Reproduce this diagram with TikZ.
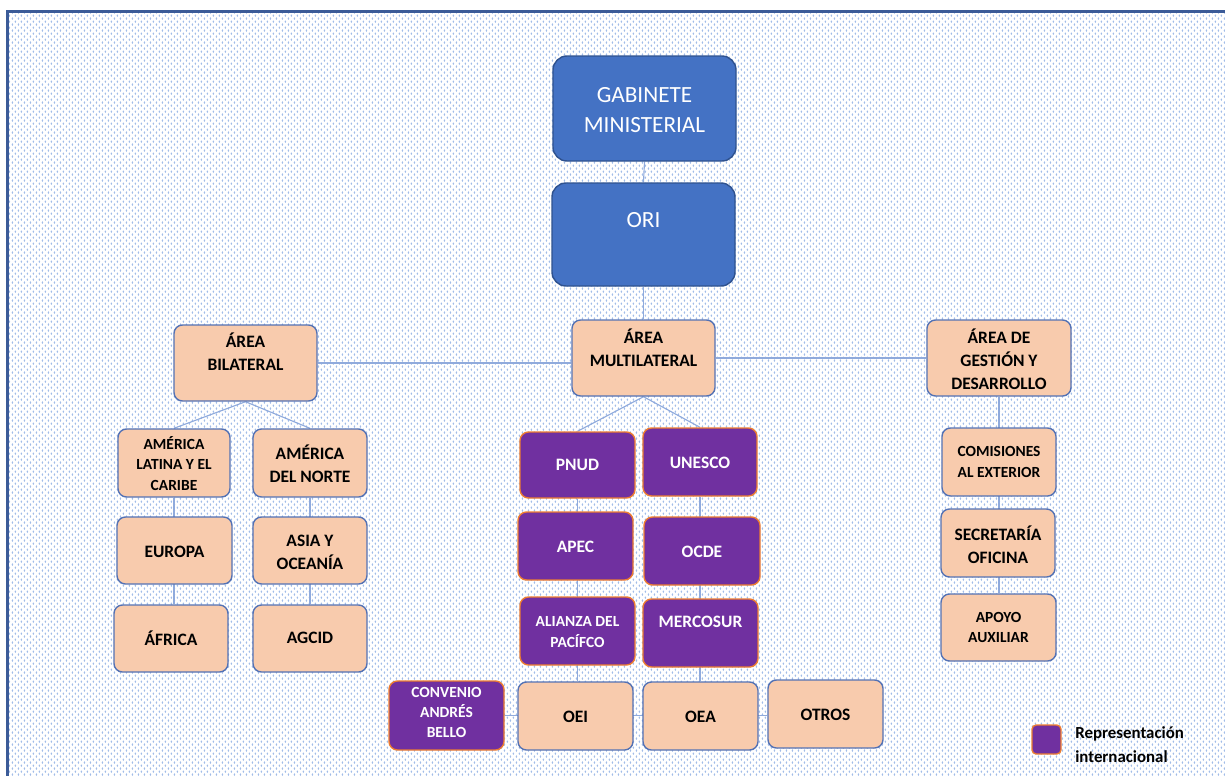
\documentclass[tikz,border=0pt]{standalone}
\usepackage{fontspec}
\setmainfont{Carlito}
\usetikzlibrary{fit,patterns}
\definecolor{peachfill}{RGB}{248,203,173}
\definecolor{peachedge}{RGB}{84,114,180}
\definecolor{purpfill}{RGB}{112,48,160}
\definecolor{orngedge}{RGB}{237,125,49}
\definecolor{bluefill}{RGB}{68,114,196}
\definecolor{blueedge}{RGB}{47,82,143}
\definecolor{linkcol}{RGB}{143,170,220}
\definecolor{framecol}{RGB}{59,91,152}
\definecolor{dotcol}{RGB}{160,188,232}
\pgfdeclarelayer{bg}
\pgfsetlayers{bg,main}
\pgfdeclarepatternformonly{mydots}{\pgfpointorigin}{\pgfqpoint{4.2pt}{4.2pt}}{\pgfqpoint{4.2pt}{4.2pt}}{%
  \pgfpathellipse{\pgfqpoint{1.05pt}{1.05pt}}{\pgfqpoint{0.55pt}{0pt}}{\pgfqpoint{0pt}{0.95pt}}%
  \pgfpathellipse{\pgfqpoint{3.15pt}{3.15pt}}{\pgfqpoint{0.55pt}{0pt}}{\pgfqpoint{0pt}{0.95pt}}%
  \pgfusepath{fill}}
\tikzset{
  boxbase/.style={inner sep=0pt, rounded corners=6pt, line width=1pt},
  peachbox/.style={boxbase, draw=peachedge, fill=peachfill},
  purpbox/.style={boxbase, draw=orngedge, fill=purpfill},
  bluebox/.style={boxbase, draw=blueedge, fill=bluefill, rounded corners=10pt},
  btxt/.style={align=center, inner sep=0pt, text=black, font=\bfseries\fontsize{12.4}{16.3}\selectfont},
  bsmall/.style={align=center, inner sep=0pt, text=black, font=\bfseries\fontsize{11}{14.5}\selectfont},
  wtxt/.style={align=center, inner sep=0pt, text=white, font=\bfseries\fontsize{12.4}{16.3}\selectfont},
  wsmall/.style={align=center, inner sep=0pt, text=white, font=\bfseries\fontsize{11}{14.5}\selectfont},
  bigtxt/.style={align=center, inner sep=0pt, text=white, font=\fontsize{16.5}{21.3}\selectfont},
  legtxt/.style={align=left, inner sep=0pt, text=black, font=\bfseries\fontsize{12}{17}\selectfont},
  link/.style={draw=linkcol, line width=0.8pt},
}
\begin{document}
\begin{tikzpicture}[x=0.025cm,y=-0.025cm]
\useasboundingbox (0,0) rectangle (1225,776);
\clip (0,0) rectangle (1225,776);
% boxes
\node[bluebox, fit={(553,56)(736,161)}] (gab) {};
\node[bigtxt] (gabT) at (644.5,110) {GABINETE\\MINISTERIAL};
\node[bluebox, fit={(552,183)(735,286)}] (ori) {};
\node[bigtxt] (oriT) at (643.5,220) {ORI};

\node[peachbox, fit={(174,325)(317,401)}] (bil) {};
\node[btxt] (bilT) at (245.5,351.5) {ÁREA\\BILATERAL};
\node[peachbox, fit={(572,320)(715,396)}] (mul) {};
\node[btxt] (mulT) at (643.5,347.5) {ÁREA\\MULTILATERAL};
\node[peachbox, fit={(927,320)(1071,396)}] (ges) {};
\node[btxt] (gesT) at (999,359.5) {ÁREA DE\\GESTIÓN Y\\DESARROLLO};

\node[peachbox, fit={(118,429)(230,497)}] (al) {};
\node[bsmall] (alT) at (174,463.5) {AMÉRICA\\LATINA Y EL\\CARIBE};
\node[peachbox, fit={(253,429)(367,497)}] (an) {};
\node[btxt] (anT) at (310,463.5) {AMÉRICA\\DEL NORTE};
\node[peachbox, fit={(117,517)(232,584)}] (eu) {};
\node[btxt] (euT) at (174.5,552) {EUROPA};
\node[peachbox, fit={(253,517)(367,584)}] (as) {};
\node[btxt] (asT) at (310,552) {ASIA Y\\OCEANÍA};
\node[peachbox, fit={(114,605)(228,672)}] (af) {};
\node[btxt] (afT) at (171,638) {ÁFRICA};
\node[peachbox, fit={(253,605)(367,672)}] (ag) {};
\node[btxt] (agT) at (310,638) {AGCID};

\node[purpbox, fit={(520,432)(635,498)}] (pnud) {};
\node[wtxt] (pnudT) at (577.5,465) {PNUD};
\node[purpbox, fit={(643,428)(757,496)}] (une) {};
\node[wtxt] (uneT) at (700,463) {UNESCO};
\node[purpbox, fit={(518,512)(633,580)}] (apec) {};
\node[wtxt] (apecT) at (575.5,547) {APEC};
\node[purpbox, fit={(644,517)(760,585)}] (ocde) {};
\node[wtxt] (ocdeT) at (702,552) {OCDE};
\node[purpbox, fit={(520,597)(635,665)}] (ali) {};
\node[wsmall] (aliT) at (577.5,632) {ALIANZA DEL\\PACÍFCO};
\node[purpbox, fit={(643,599)(758,667)}] (mer) {};
\node[wtxt] (merT) at (700.5,622) {MERCOSUR};
\node[purpbox, fit={(389,681)(504,750)}] (conv) {};
\node[wsmall] (convT) at (446.5,712.5) {CONVENIO\\ANDRÉS\\BELLO};
\node[peachbox, fit={(518,682)(633,750)}] (oei) {};
\node[btxt] (oeiT) at (575.5,717) {OEI};
\node[peachbox, fit={(643,682)(758,750)}] (oea) {};
\node[btxt] (oeaT) at (700.5,717) {OEA};
\node[peachbox, fit={(768,680)(883,748)}] (otr) {};
\node[btxt] (otrT) at (825.5,715) {OTROS};

\node[peachbox, fit={(942,428)(1056,496)}] (com) {};
\node[bsmall] (comT) at (999,462) {COMISIONES\\AL EXTERIOR};
\node[peachbox, fit={(941,509)(1055,577)}] (sec) {};
\node[btxt] (secT) at (998,544.5) {SECRETARÍA\\OFICINA};
\node[peachbox, fit={(941,594)(1056,661)}] (apo) {};
\node[bsmall] (apoT) at (998.5,627.5) {APOYO\\AUXILIAR};

\node[purpbox, rounded corners=3pt, fit={(1032,725)(1061,754)}] (leg) {};
\node[legtxt, anchor=west] (legT) at (1075,745) {Representación\\internacional};

\begin{pgfonlayer}{bg}
  \fill[white] (0,0) rectangle (1225,776);
  \fill[pattern=mydots, pattern color=dotcol] (7.5,11.5) rectangle (1230,780);
  \draw[framecol, line width=2.2pt] (1235,11.5) -- (7.5,11.5) -- (7.5,785);
  \draw[link] (gab.south) -- (ori.north);
  \draw[link] (ori.south) -- (ori.south |- mul.north);
  \draw[link] (bil.east) -- (bil.east -| mul.west);
  \draw[link] (mul.east) -- (ges.west);
  \draw[link] (bil.south) -- (al.north);
  \draw[link] (bil.south) -- (an.north);
  \draw[link] (al.south) -- (al.south |- af.north);
  \draw[link] (an.south) -- (an.south |- ag.north);
  \draw[link] (mul.south) -- (pnud.north);
  \draw[link] (mul.south) -- (une.north);
  \draw[link] (pnud.south) -- (pnud.south |- oei.north);
  \draw[link] (une.south) -- (une.south |- oea.north);
  \draw[link] (conv.east) -- (conv.east -| otr.west);
  \draw[link] (ges.south) -- (ges.south |- apo.north);
\end{pgfonlayer}
\end{tikzpicture}
\end{document}
